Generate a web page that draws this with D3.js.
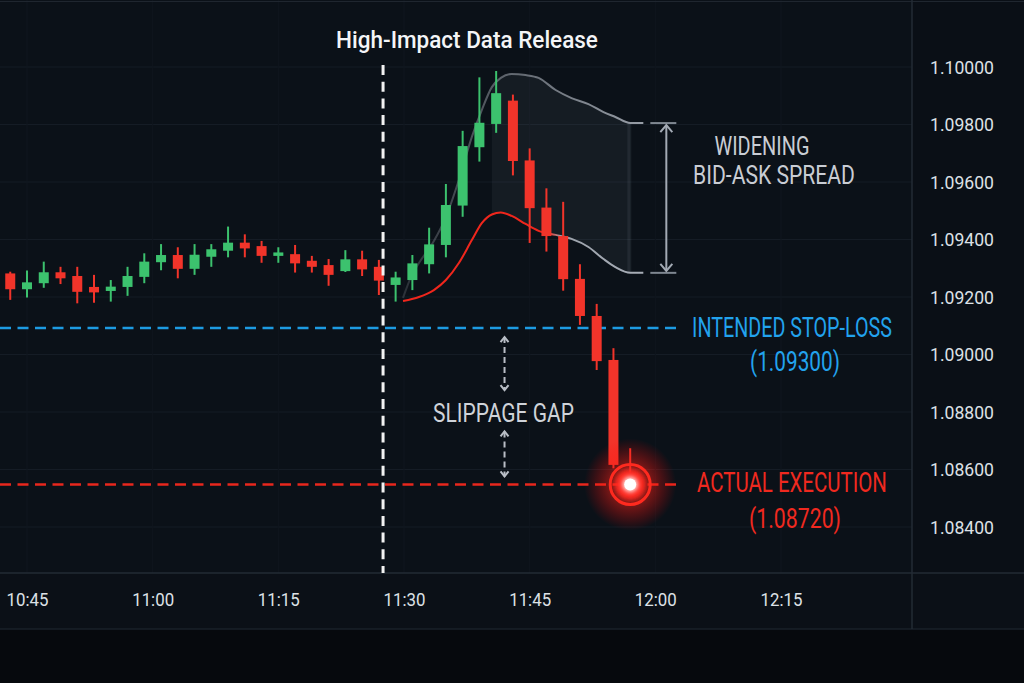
<!DOCTYPE html>
<html>
<head>
<meta charset="utf-8">
<script src="https://cdn.jsdelivr.net/npm/d3@7"></script>
<style>
  html, body { margin:0; padding:0; background:#06090d; }
  svg { display:block; }
  text { font-family: Roboto, "Noto Sans", sans-serif; }
</style>
</head>
<body>
<div class="chart"></div>
<script>
// 2-minute candles
const candleTimes = ["10:43","10:45","10:47","10:49","10:51","10:53","10:55","10:57","10:59",
  "11:01","11:03","11:05","11:07","11:09","11:11","11:13","11:15","11:17","11:19","11:21",
  "11:23","11:25","11:27","11:29","11:31","11:33","11:35","11:37","11:39","11:41","11:43",
  "11:45","11:47","11:49","11:51","11:53","11:55","11:57"]
const opens  = [1.09282,1.09227,1.09248,1.09286,1.09273,1.09235,1.09221,1.09235,1.09270,1.09321,
  1.09346,1.09298,1.09340,1.09361,1.09389,1.09377,1.09343,1.09349,1.09326,1.09311,1.09290,1.09331,
  1.09305,1.09242,1.09259,1.09314,1.09381,1.09518,1.09721,1.09802,1.09883,1.09675,1.09511,1.09412,
  1.09263,1.09134,1.08981,1.08548]
const highs  = [1.09288,1.09292,1.09323,1.09305,1.09305,1.09277,1.09259,1.09305,1.09352,1.09384,
  1.09373,1.09384,1.09384,1.09445,1.09418,1.09395,1.09373,1.09381,1.09343,1.09332,1.09363,1.09361,
  1.09329,1.09288,1.09346,1.09441,1.09593,1.09778,1.09964,1.09986,1.09904,1.09717,1.09578,1.09531,
  1.09314,1.09176,1.09022,1.08674]
const lows   = [1.09190,1.09198,1.09232,1.09245,1.09178,1.09180,1.09184,1.09204,1.09248,1.09293,
  1.09265,1.09277,1.09305,1.09338,1.09338,1.09319,1.09319,1.09285,1.09285,1.09239,1.09287,1.09273,
  1.09207,1.09184,1.09224,1.09282,1.09338,1.09479,1.09671,1.09771,1.09623,1.09388,1.09358,1.09222,
  1.09103,1.08946,1.08604,1.08548]
const closes = [1.09227,1.09251,1.09286,1.09265,1.09218,1.09216,1.09236,1.09273,1.09323,1.09346,
  1.09298,1.09347,1.09366,1.09389,1.09369,1.09343,1.09355,1.09317,1.09305,1.09277,1.09331,1.09296,
  1.09257,1.09268,1.09317,1.09383,1.09520,1.09725,1.09806,1.09909,1.09673,1.09509,1.09412,1.09262,
  1.09134,1.08977,1.08616,1.08548]

// bid / ask envelope after the release
const spreadTimes = ["11:29:53","11:30:57","11:31:47","11:33:34","11:35:00","11:36:33","11:38:06",
  "11:39:17","11:40:29","11:41:33","11:42:51","11:44:31","11:46:04","11:48:06","11:50:00","11:52:01",
  "11:53:49","11:55:14","11:57:01","11:58:34"]
const askPrices = [1.09197,1.09277,1.09318,1.09395,1.09478,1.09607,1.09757,1.09850,1.09930,1.09962,
  1.09976,1.09972,1.09962,1.09920,1.09892,1.09871,1.09843,1.09826,1.09805,1.09805]
const bidPrices = [1.09186,1.09193,1.09200,1.09224,1.09259,1.09318,1.09398,1.09457,1.09487,1.09494,
  1.09482,1.09454,1.09430,1.09416,1.09402,1.09374,1.09332,1.09304,1.09284,1.09284]

const xTicks = ["10:45","11:00","11:15","11:30","11:45","12:00","12:15"]
const yTicks = [1.084,1.086,1.088,1.090,1.092,1.094,1.096,1.098,1.100]

const releaseTime = "11:27:30"
const stopLoss = 1.09092
const execTime = "11:57"
const execPrice = 1.08548
const stopLabel = "(1.09300)"
const execLabel = "(1.08720)"

const W = 1024, H = 683
const plotR = 912, plotB = 573, bandB = 629

const pMin = d3.timeParse("%H:%M"), pSec = d3.timeParse("%H:%M:%S")
const t = s => s.length > 5 ? pSec(s) : pMin(s)

const candles = candleTimes.map((d,i) => ({time:t(d), o:opens[i], h:highs[i], l:lows[i], c:closes[i]}))
const spread = spreadTimes.map((d,i) => ({time:t(d), ask:askPrices[i], bid:bidPrices[i]}))

const x = d3.scaleTime().domain([t("10:45"), t("12:15")]).range([27, 781])
const y = d3.scaleLinear().domain([1.084, 1.100]).range([527, 67])

const svg = d3.select(".chart").append("svg").attr("width", W).attr("height", H)
const defs = svg.append("defs")

// squeeze a text horizontally to the width it has in the picture
function squeeze(sel, len) {
  sel.each(function() {
    const w = this.getComputedTextLength()
    const tx = +this.getAttribute("x") || 0
    d3.select(this).attr("transform", `translate(${tx},0) scale(${len/w},1) translate(${-tx},0)`)
  })
}

// backgrounds
svg.append("rect").attr("width", W).attr("height", H).attr("fill", "#06090d")
svg.append("rect").attr("width", plotR).attr("height", plotB).attr("fill", "#0b1118")
svg.append("rect").attr("x", plotR).attr("width", W-plotR).attr("height", plotB).attr("fill", "#0a0f16")
svg.append("rect").attr("y", plotB).attr("width", W).attr("height", bandB-plotB).attr("fill", "#0b1017")

// grid
svg.append("g").selectAll("line").data(yTicks).join("line")
  .attr("x1", 0).attr("x2", plotR).attr("y1", d=>y(d)).attr("y2", d=>y(d))
  .attr("stroke", "#151c25").attr("stroke-width", 1)
svg.append("g").selectAll("line").data(xTicks).join("line")
  .attr("x1", d=>x(t(d))).attr("x2", d=>x(t(d))).attr("y1", 0).attr("y2", plotB)
  .attr("stroke", "#10161e").attr("stroke-width", 1)

svg.append("line").attr("x1",0).attr("x2",W).attr("y1",1.5).attr("y2",1.5).attr("stroke","#1f262f")
svg.append("line").attr("x1",0).attr("x2",W).attr("y1",plotB).attr("y2",plotB).attr("stroke","#232b35").attr("stroke-width",1.5)
svg.append("line").attr("x1",0).attr("x2",W).attr("y1",bandB).attr("y2",bandB).attr("stroke","#1a212a").attr("stroke-width",1.5)
svg.append("line").attr("x1",plotR).attr("x2",plotR).attr("y1",0).attr("y2",bandB).attr("stroke","#232b35").attr("stroke-width",1.5)

// axes
const yAxis = d3.axisRight(y).tickValues(yTicks).tickFormat(d3.format(".5f")).tickSize(0).tickPadding(0)
svg.append("g").attr("class","y-axis").attr("transform", "translate(930,0)").call(yAxis)
  .call(g => g.select(".domain").remove())
  .selectAll("text").attr("fill", "#dde1e6").attr("font-size", 19).call(squeeze, 64)

const xAxis = d3.axisBottom(x).tickValues(xTicks.map(t)).tickFormat(d3.timeFormat("%H:%M")).tickSize(0).tickPadding(20)
svg.append("g").attr("class","x-axis").attr("transform", `translate(0,${plotB})`).call(xAxis)
  .call(g => g.select(".domain").remove())
  .selectAll("text").attr("fill", "#dde1e6").attr("font-size", 19).call(squeeze, 42)

// spread shading
const shade = spread.filter(d => d.time >= t("11:40:29") && d.time <= t("11:57:01"))
svg.append("path").datum(shade)
  .attr("d", d3.area().x(d=>x(d.time)).y0(d=>y(d.bid)).y1(d=>y(d.ask)).curve(d3.curveMonotoneX))
  .attr("fill", "rgba(190,200,215,0.06)")
const last = shade[shade.length-1]
svg.append("rect").attr("x", x(last.time)-3).attr("width", 4)
  .attr("y", y(last.ask)).attr("height", y(last.bid)-y(last.ask))
  .attr("fill", "rgba(190,200,215,0.08)")

const x0 = x(spread[0].time), x1 = x(spread[spread.length-1].time)
const askGrad = defs.append("linearGradient").attr("id","askGrad").attr("gradientUnits","userSpaceOnUse")
  .attr("x1", x0).attr("x2", x1).attr("y1",0).attr("y2",0)
askGrad.append("stop").attr("offset","0%").attr("stop-color","#a7adb6").attr("stop-opacity",0.2)
askGrad.append("stop").attr("offset","40%").attr("stop-color","#a7adb6").attr("stop-opacity",0.5)
askGrad.append("stop").attr("offset","100%").attr("stop-color","#a7adb6").attr("stop-opacity",0.9)
const bidGrad = defs.append("linearGradient").attr("id","bidGrad").attr("gradientUnits","userSpaceOnUse")
  .attr("x1", x0).attr("x2", x1).attr("y1",0).attr("y2",0)
bidGrad.append("stop").attr("offset","0%").attr("stop-color","#f0261c")
bidGrad.append("stop").attr("offset","60%").attr("stop-color","#f0261c")
bidGrad.append("stop").attr("offset","66%").attr("stop-color","#9da3ac")
bidGrad.append("stop").attr("offset","100%").attr("stop-color","#a7adb6")

svg.append("path").datum(spread)
  .attr("d", d3.line().x(d=>x(d.time)).y(d=>y(d.ask)).curve(d3.curveMonotoneX))
  .attr("fill","none").attr("stroke","url(#askGrad)").attr("stroke-width",2)
svg.append("path").datum(spread)
  .attr("d", d3.line().x(d=>x(d.time)).y(d=>y(d.bid)).curve(d3.curveMonotoneX))
  .attr("fill","none").attr("stroke","url(#bidGrad)").attr("stroke-width",2)

// stop-loss and execution levels
svg.append("line").attr("x1",0).attr("x2",680).attr("y1",y(stopLoss)).attr("y2",y(stopLoss))
  .attr("stroke","#1d9be2").attr("stroke-width",2.5).attr("stroke-dasharray","11,6.5")
svg.append("line").attr("x1",0).attr("x2",680).attr("y1",y(execPrice)).attr("y2",y(execPrice))
  .attr("stroke","#e8271d").attr("stroke-width",2.5).attr("stroke-dasharray","11,6.5")

// candles
const up = "#3cc26e", down = "#f2342a"
const cg = svg.append("g").selectAll("g").data(candles).join("g")
cg.append("line").attr("x1", d=>x(d.time)).attr("x2", d=>x(d.time))
  .attr("y1", d=>y(d.h)).attr("y2", d=>y(d.l))
  .attr("stroke", d=>d.c>d.o ? up : down).attr("stroke-width", 2)
cg.append("rect").attr("x", d=>x(d.time)-5).attr("width", 10)
  .attr("y", d=>y(Math.max(d.o,d.c))).attr("height", d=>Math.max(1, Math.abs(y(d.o)-y(d.c))))
  .attr("fill", d=>d.c>d.o ? up : down)

// release line
svg.append("line").attr("x1", x(t(releaseTime))).attr("x2", x(t(releaseTime)))
  .attr("y1", 65).attr("y2", plotB).attr("stroke","#f2f2f2").attr("stroke-width",3)
  .attr("stroke-dasharray","10,6.7")

// annotation helpers
function vArrow(x_, y1, y2, color, dash, head) {
  const g = svg.append("g").attr("stroke", color).attr("stroke-width", 2).attr("fill","none")
  g.append("line").attr("x1",x_).attr("x2",x_).attr("y1",y1).attr("y2",y2).attr("stroke-dasharray", dash)
  g.append("path").attr("d", `M${x_-head},${y1+head+1}L${x_},${y1}L${x_+head},${y1+head+1}`)
  g.append("path").attr("d", `M${x_-head},${y2-head-1}L${x_},${y2}L${x_+head},${y2-head-1}`)
}
function label(txt, cx, cy, size, color, len, weight) {
  svg.append("text").attr("x", cx).attr("y", cy).attr("dy","0.36em")
    .attr("text-anchor","middle").attr("font-size", size).attr("font-weight", weight || 400)
    .attr("fill", color).text(txt).call(squeeze, len)
}

// spread bracket
const bx = x1 + 23, yTop = y(spread[spread.length-1].ask), yBot = y(spread[spread.length-1].bid)
svg.append("line").attr("x1",x1+7).attr("x2",x1+33).attr("y1",yTop).attr("y2",yTop).attr("stroke","#7f8791").attr("stroke-width",2)
svg.append("line").attr("x1",x1+7).attr("x2",x1+33).attr("y1",yBot).attr("y2",yBot).attr("stroke","#7f8791").attr("stroke-width",2)
vArrow(bx, yTop+2, yBot-2, "#a3aab4", null, 6)

// slippage arrows
const sx = x(t("11:42:00")), ys = y(stopLoss), ye = y(execPrice)
vArrow(sx, ys+9, ys+62, "#b9bec6", "6,4", 4)
vArrow(sx, ye-53, ye-8, "#b9bec6", "6,4", 4)

// execution marker
const glow = defs.append("radialGradient").attr("id","glow")
glow.append("stop").attr("offset","0%").attr("stop-color","#ff2a1e").attr("stop-opacity",0.9)
glow.append("stop").attr("offset","45%").attr("stop-color","#ff2016").attr("stop-opacity",0.45)
glow.append("stop").attr("offset","100%").attr("stop-color","#ff0000").attr("stop-opacity",0)
const blur = defs.append("filter").attr("id","blur").attr("x","-50%").attr("y","-50%").attr("width","200%").attr("height","200%")
blur.append("feGaussianBlur").attr("stdDeviation",2)
const ex = x(t(execTime)), ey = y(execPrice)
svg.append("circle").attr("cx",ex).attr("cy",ey).attr("r",46).attr("fill","url(#glow)")
svg.append("circle").attr("cx",ex).attr("cy",ey).attr("r",15).attr("fill","#ff2c20").attr("filter","url(#blur)")
svg.append("circle").attr("cx",ex).attr("cy",ey).attr("r",20).attr("fill","none").attr("stroke","#ff2a1f").attr("stroke-width",3)
svg.append("circle").attr("cx",ex).attr("cy",ey).attr("r",8).attr("fill","#ffd6d2").attr("filter","url(#blur)")
svg.append("circle").attr("cx",ex).attr("cy",ey).attr("r",6).attr("fill","#ffffff")

// texts
label("High-Impact Data Release", 467, 39, 24, "#f4f5f7", 262, 500)
label("WIDENING", 762, 146, 25, "#c9cdd4", 95)
label("BID-ASK SPREAD", 774, 175.5, 25, "#c9cdd4", 162)
label("SLIPPAGE GAP", sx - 1, 412.5, 26, "#cfd3d9", 141)
label("INTENDED STOP-LOSS", 792, ys - 1, 27, "#22a3ee", 200)
label(stopLabel, 795, ys + 33, 27, "#22a3ee", 90)
label("ACTUAL EXECUTION", 792, ye - 2, 27, "#f0291f", 190)
label(execLabel, 795, ye + 34, 27, "#f0291f", 92)
</script>
</body>
</html>
